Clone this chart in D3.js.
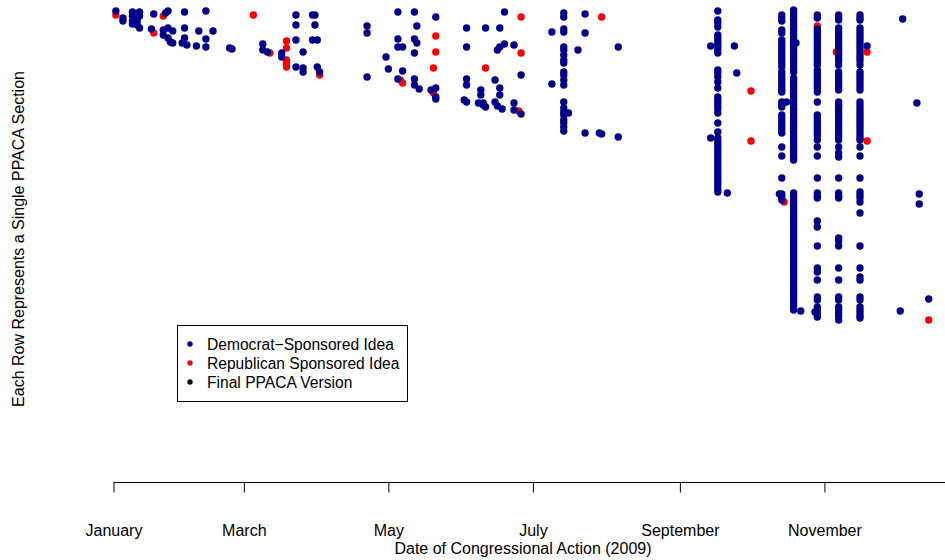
<!DOCTYPE html>
<html>
<head>
<meta charset="utf-8">
<script src="https://cdn.jsdelivr.net/npm/d3@7"></script>
<style>
  body { margin: 0; background: #fff; }
  text { font-family: "Liberation Sans", Arial, Helvetica, sans-serif; }
</style>
</head>
<body>
<svg id="chart" width="945" height="560"></svg>
<script>
// Month ticks along the date axis
const tickDates = ["2009-01-05", "2009-03-01", "2009-05-01", "2009-07-01", "2009-09-01", "2009-11-01"];
const tickLabels = ["January", "March", "May", "July", "September", "November"];

// Each entry: date of congressional action, and the PPACA section rows touched that day
const democratActions = [
  ["2009-01-06", [11]],
  ["2009-01-09", [18, 21]],
  ["2009-01-13", [12, 16, 21, 24]],
  ["2009-01-15", [21, 25]],
  ["2009-01-16", [12, 16, 28]],
  ["2009-01-21", [29]],
  ["2009-01-22", [14]],
  ["2009-01-26", [30, 35]],
  ["2009-01-27", [13]],
  ["2009-01-28", [11, 28, 38]],
  ["2009-01-29", [42]],
  ["2009-01-30", [31, 43]],
  ["2009-02-03", [43]],
  ["2009-02-04", [12, 28, 38]],
  ["2009-02-05", [45]],
  ["2009-02-09", [46]],
  ["2009-02-10", [31]],
  ["2009-02-13", [11, 39, 47]],
  ["2009-02-16", [31]],
  ["2009-02-23", [48]],
  ["2009-02-24", [49]],
  ["2009-03-09", [44, 50]],
  ["2009-03-11", [52]],
  ["2009-03-17", [53, 57]],
  ["2009-03-23", [15, 25, 40, 67]],
  ["2009-03-26", [52, 68, 72]],
  ["2009-03-30", [15, 40]],
  ["2009-03-31", [15, 25]],
  ["2009-04-01", [40, 67]],
  ["2009-04-02", [72]],
  ["2009-04-22", [26, 33, 77]],
  ["2009-04-30", [57]],
  ["2009-05-01", [69]],
  ["2009-05-05", [12, 39, 47, 79]],
  ["2009-05-07", [47, 71]],
  ["2009-05-12", [12, 39, 53, 79, 85]],
  ["2009-05-13", [26, 43]],
  ["2009-05-14", [89]],
  ["2009-05-19", [90]],
  ["2009-05-21", [17, 88, 97, 99]],
  ["2009-06-02", [100]],
  ["2009-06-03", [28, 47, 79, 85, 102]],
  ["2009-06-08", [103]],
  ["2009-06-09", [90, 95]],
  ["2009-06-10", [103, 105]],
  ["2009-06-11", [28, 107]],
  ["2009-06-15", [80, 102]],
  ["2009-06-16", [50, 106]],
  ["2009-06-17", [28, 47, 88, 95]],
  ["2009-06-18", [109]],
  ["2009-06-19", [12, 44]],
  ["2009-06-23", [45, 103, 110]],
  ["2009-06-26", [75, 114]],
  ["2009-07-09", [32, 84]],
  ["2009-07-14", [13, 17, 29, 32, 47, 50, 55, 60, 63, 72, 75, 80, 85, 102, 108, 112, 115, 120, 123, 127, 131]],
  ["2009-07-16", [113]],
  ["2009-07-20", [50]],
  ["2009-07-23", [14, 33, 133]],
  ["2009-07-29", [133]],
  ["2009-07-30", [134]],
  ["2009-08-06", [47, 137]],
  ["2009-09-14", [46, 138]],
  ["2009-09-17", [11, 20, 23, 27, 35, 38, 41, 44, 47, 50, 53, 70, 73, 77, 82, 88, 97, 100, 103, 106, 109, 113, 123, 132,
                  138, 141, 144, 147, 150, 153, 156, 159, 162, 165, 168, 171, 174, 177, 180, 183, 186, 189, 192]],
  ["2009-09-21", [193]],
  ["2009-09-24", [46]],
  ["2009-09-25", [73]],
  ["2009-10-13", [194]],
  ["2009-10-14", [15, 18, 21, 30, 33, 40, 43, 46, 49, 52, 55, 58, 61, 64, 67, 72, 75, 78, 81, 84, 87, 90, 92,
                  102, 105, 107, 115, 118, 121, 124, 127, 130, 133, 147, 156, 178, 194, 197, 200]],
  ["2009-10-16", [102]],
  ["2009-10-19", [10, 13, 16, 19, 22, 25, 28, 31, 34, 37, 40, 43, 46, 49, 52, 55, 58, 61, 64, 67, 70, 72,
                  78, 81, 84, 87, 90, 93, 96, 99, 102, 105, 108, 110,
                  113, 116, 119, 122, 125, 128, 131, 134, 137, 140, 143, 146, 149, 152, 155, 158, 160,
                  193, 196, 199, 202, 205, 208, 211, 214, 217, 220, 223, 226, 229, 232, 235, 238, 241, 244, 247,
                  250, 253, 256, 259, 262, 265, 268, 271, 274, 277, 280, 283, 286, 289, 292, 295, 298, 301, 304, 307, 310]],
  ["2009-10-20", [43]],
  ["2009-10-22", [311]],
  ["2009-10-28", [312]],
  ["2009-10-29", [15, 18, 29, 32, 35, 38, 41, 44, 47, 50, 53, 56, 59, 62, 65, 70, 73, 76, 79, 82, 85, 88, 92,
                  102, 115, 118, 121, 124, 127, 130, 133, 136, 140, 147, 156, 178, 193, 196, 198, 221, 227, 246,
                  268, 272, 280, 297, 300, 307, 310, 314, 317]],
  ["2009-11-07", [15, 18, 20, 28, 31, 34, 37, 40, 43, 46, 49, 52, 55, 58, 61, 65, 72, 75, 78, 81, 84, 87, 90,
                  102, 105, 107, 110, 113, 116, 119, 122, 125, 128, 131, 134, 137, 140, 147, 153, 157, 178,
                  193, 196, 198, 238, 241, 246, 268, 280, 297, 300, 307, 310, 313, 316, 320]],
  ["2009-11-16", [15, 18, 20, 28, 31, 34, 37, 40, 43, 46, 49, 52, 55, 58, 61, 65, 72, 75, 78, 81, 84, 87, 90,
                  102, 105, 108, 111, 114, 117, 120, 123, 126, 129, 132, 135, 138, 140, 147, 156, 178,
                  192, 195, 198, 202, 213, 246, 268, 277, 280, 297, 300, 307, 310, 313, 316, 318]],
  ["2009-11-19", [46]],
  ["2009-12-03", [311]],
  ["2009-12-04", [19]],
  ["2009-12-10", [103]],
  ["2009-12-11", [194, 204]],
  ["2009-12-15", [299]]
];

const republicanActions = [
  ["2009-01-06", [15]],
  ["2009-01-22", [33]],
  ["2009-01-26", [16]],
  ["2009-03-05", [15]],
  ["2009-03-12", [53]],
  ["2009-03-19", [41, 48, 60, 63, 67]],
  ["2009-04-02", [75]],
  ["2009-05-06", [80]],
  ["2009-05-07", [83]],
  ["2009-05-20", [68, 93]],
  ["2009-05-21", [36, 52]],
  ["2009-06-11", [68]],
  ["2009-06-25", [111]],
  ["2009-06-26", [17, 53]],
  ["2009-07-30", [17]],
  ["2009-10-01", [91, 141]],
  ["2009-10-15", [202]],
  ["2009-10-29", [26]],
  ["2009-11-06", [52]],
  ["2009-11-19", [52, 141]],
  ["2009-12-15", [320]]
];

const legendLabels = ["Democrat\u2212Sponsored Idea", "Republican Sponsored Idea", "Final PPACA Version"];
const legendColors = ["#00008B", "#FF0000", "#000000"];

const xTitle = "Date of Congressional Action (2009)";
const yTitle = "Each Row Represents a Single PPACA Section";

// ---- layout ----
const W = 945, H = 560;
const axisY = 482.5;
const parse = d3.utcParse("%Y-%m-%d");

const svg = d3.select("#chart");

const x = d3.scaleUtc()
  .domain([parse("2009-01-01"), parse("2010-01-01")])
  .range([104, 969]);

// section rows run top to bottom
const y = d3.scaleLinear()
  .domain([0, 483])
  .range([0, 483]);

const toPoints = actions => actions.flatMap(([date, rows]) =>
  rows.map(row => ({ date: parse(date), row })));

const demPoints = toPoints(democratActions);
const repPoints = toPoints(republicanActions);

const R = 3.7;

svg.append("g").selectAll("circle")
  .data(repPoints).join("circle")
  .attr("cx", d => x(d.date))
  .attr("cy", d => y(d.row))
  .attr("r", R)
  .attr("fill", legendColors[1]);

svg.append("g").selectAll("circle")
  .data(demPoints).join("circle")
  .attr("cx", d => x(d.date))
  .attr("cy", d => y(d.row))
  .attr("r", R)
  .attr("fill", legendColors[0]);

// ---- x axis ----
const ticks = tickDates.map(parse);
const axis = d3.axisBottom(x)
  .tickValues(ticks)
  .tickFormat((d, i) => tickLabels[i])
  .tickSize(10)
  .tickPadding(32);

const gx = svg.append("g")
  .attr("transform", `translate(0,${axisY})`)
  .call(axis);
gx.select(".domain").remove();
gx.selectAll(".tick line").attr("stroke", "#000");
gx.selectAll(".tick text")
  .attr("fill", "#000")
  .style("font-size", "16px")
  .style("font-family", "'Liberation Sans', Arial, Helvetica, sans-serif");
gx.append("line")
  .attr("x1", x(ticks[0]))
  .attr("x2", W)
  .attr("y1", 0).attr("y2", 0)
  .attr("stroke", "#000");

svg.append("text")
  .attr("x", 523).attr("y", 554)
  .attr("text-anchor", "middle")
  .style("font-size", "16px")
  .text(xTitle);

svg.append("text")
  .attr("transform", "translate(24,239) rotate(-90)")
  .attr("text-anchor", "middle")
  .style("font-size", "16px")
  .text(yTitle);

// ---- legend ----
const legend = svg.append("g");
legend.append("rect")
  .attr("x", 177.5).attr("y", 325.5)
  .attr("width", 230).attr("height", 76)
  .attr("fill", "#fff")
  .attr("stroke", "#000");

const items = legend.selectAll("g.item")
  .data(legendLabels).join("g")
  .attr("class", "item")
  .attr("transform", (d, i) => `translate(190,${344 + i * 19})`);
items.append("circle")
  .attr("r", 2.7)
  .attr("fill", (d, i) => legendColors[i]);
items.append("text")
  .attr("x", 17).attr("y", 6)
  .style("font-size", "15.6px")
  .text(d => d);
</script>
</body>
</html>
